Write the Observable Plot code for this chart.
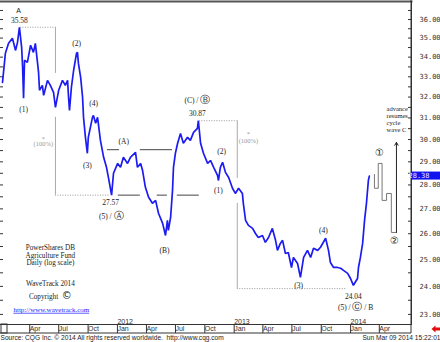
<!DOCTYPE html>
<html><head><meta charset="utf-8">
<script src="https://cdn.jsdelivr.net/npm/d3@7"></script>
<script src="https://cdn.jsdelivr.net/npm/@observablehq/plot@0.6"></script>
<style>body{margin:0;background:#fff}svg{display:block}</style>
</head><body><div id="chart"></div>
<script>
// ---- data ----
const priceSeries = [
["2011-01-12",32.72],["2011-01-21",34.20],["2011-01-31",34.72],["2011-02-12",34.99],["2011-02-22",34.35],
["2011-02-28",34.77],["2011-03-06",35.58],["2011-03-13",34.51],["2011-03-16",33.48],["2011-03-19",31.94],
["2011-03-22",33.84],["2011-03-31",33.73],["2011-04-10",34.62],["2011-04-19",34.25],["2011-04-25",34.72],
["2011-05-02",33.68],["2011-05-05",33.22],["2011-05-08",32.33],["2011-05-17",32.57],["2011-05-21",32.08],
["2011-06-02",32.82],["2011-06-11",32.57],["2011-06-21",32.23],["2011-06-27",31.50],["2011-07-07",32.33],
["2011-07-19",32.82],["2011-07-28",32.57],["2011-08-04",32.82],["2011-08-07",31.99],["2011-08-10",31.36],
["2011-08-16",32.48],["2011-08-23",33.33],["2011-09-01",34.20],["2011-09-04",34.25],["2011-09-07",33.68],
["2011-09-14",32.97],["2011-09-20",31.99],["2011-09-23",31.03],["2011-09-29",30.10],["2011-10-05",29.38],
["2011-10-08",30.10],["2011-10-21",31.03],["2011-10-24",31.12],["2011-10-31",30.75],["2011-11-06",31.03],
["2011-11-15",29.96],["2011-11-25",29.20],["2011-12-04",28.76],["2011-12-10",28.32],["2011-12-20",27.57],
["2011-12-26",28.50],["2012-01-08",28.93],["2012-01-17",28.76],["2012-01-26",29.20],["2012-02-08",28.93],
["2012-02-17",29.20],["2012-03-04",29.42],["2012-03-10",28.76],["2012-03-20",28.93],["2012-03-26",28.63],
["2012-04-04",27.90],["2012-04-14",27.48],["2012-04-26",27.23],["2012-05-06",27.35],["2012-05-15",26.82],
["2012-05-28",26.41],["2012-06-06",25.93],["2012-06-12",26.53],["2012-06-15",26.13],["2012-06-22",26.65],
["2012-06-28",27.77],["2012-07-01",28.76],["2012-07-07",29.38],["2012-07-14",29.83],["2012-07-23",30.28],
["2012-08-01",29.83],["2012-08-14",30.10],["2012-08-23",29.96],["2012-09-02",30.33],["2012-09-14",30.51],
["2012-09-17",30.87],["2012-09-24",29.83],["2012-10-03",29.38],["2012-10-16",28.93],["2012-10-25",29.06],
["2012-11-04",28.76],["2012-11-16",28.41],["2012-11-19",28.19],["2012-11-25",28.76],["2012-12-02",28.98],
["2012-12-11",28.54],["2012-12-21",28.32],["2013-01-02",27.86],["2013-01-11",27.64],["2013-01-21",27.86],
["2013-02-02",27.64],["2013-02-05",27.23],["2013-02-12",26.53],["2013-02-21",26.33],["2013-03-06",26.21],
["2013-03-15",26.01],["2013-03-24",25.85],["2013-04-06",25.93],["2013-04-15",25.66],["2013-04-25",25.85],
["2013-05-07",26.21],["2013-05-17",25.74],["2013-05-23",25.35],["2013-06-01",25.62],["2013-06-08",25.74],
["2013-06-17",25.23],["2013-06-26",25.27],["2013-07-06",24.70],["2013-07-12",25.08],["2013-07-25",24.85],
["2013-08-03",24.33],["2013-08-13",25.08],["2013-08-25",25.35],["2013-09-04",25.08],["2013-09-13",25.43],
["2013-09-26",25.35],["2013-10-05",25.47],["2013-10-21",25.82],["2013-10-30",25.35],["2013-11-05",24.89],
["2013-11-15",24.70],["2013-11-27",24.70],["2013-12-07",24.67],["2013-12-16",24.59],["2013-12-29",24.48],
["2014-01-07",24.29],["2014-01-16",24.04],["2014-01-29",24.29],["2014-02-01",24.70],["2014-02-07",25.08],
["2014-02-14",25.62],["2014-02-20",26.53],["2014-02-26",27.23],["2014-03-04",28.19],["2014-03-07",28.38]
];
const lastPrice = 28.38;
const yTicks = [23,24,25,26,27,28,29,30,31,32,33,34,35,36];
const yMinorTicks = d3.range(23, 37.01, 0.5);
const quarterTicks = ["2011-04-01","2011-07-01","2011-10-01","2012-01-01","2012-04-01","2012-07-01","2012-10-01",
  "2013-01-01","2013-04-01","2013-07-01","2013-10-01","2014-01-01","2014-04-01"];
const monthNames = ["Jan","Feb","Mar","Apr","May","Jun","Jul","Aug","Sep","Oct","Nov","Dec"];
const yearTicks = ["2012-01-01","2013-01-01","2014-01-01"];

const waveLabels = [
  {date:"2011-03-19", price:31.41, text:"(1)"},
  {date:"2011-09-01", price:34.72, text:"(2)"},
  {date:"2011-10-05", price:28.84, text:"(3)"},
  {date:"2011-10-25", price:31.69, text:"(4)"},
  {date:"2012-01-27", price:29.92, text:"(A)"},
  {date:"2011-12-19", price:26.69, text:"(5) / Ⓐ"},
  {date:"2012-06-03", price:25.35, text:"(B)"},
  {date:"2012-09-14", price:31.84, text:"(C) / Ⓑ"},
  {date:"2012-11-19", price:27.77, text:"(1)"},
  {date:"2012-11-29", price:29.47, text:"(2)"},
  {date:"2013-07-28", price:24.04, text:"(3)"},
  {date:"2013-10-14", price:26.13, text:"(4)"},
  {date:"2014-01-23", price:23.25, text:"(5) / Ⓒ / B"},
  {date:"2014-04-08", price:29.38, text:"①"},
  {date:"2014-05-25", price:25.70, text:"②"}
];
const priceLabels = [
  {date:"2011-03-06", price:35.96, text:"35.58"},
  {date:"2011-12-17", price:27.27, text:"27.57"},
  {date:"2012-09-14", price:31.22, text:"30.87"},
  {date:"2014-01-16", price:23.64, text:"24.04"}
];
const pctLabels = [
  {date:"2011-05-20", price:30.05, text:"*"},
  {date:"2011-05-20", price:29.78, text:"(100%)"},
  {date:"2013-02-21", price:30.24, text:"*"},
  {date:"2013-02-21", price:29.92, text:"(100%)"}
];
const levelSolid = [
  {price:29.54, from:"2011-12-07", to:"2012-01-14"},
  {price:29.54, from:"2012-03-19", to:"2012-06-28"},
  {price:27.57, from:"2012-01-10", to:"2012-03-19"},
  {price:27.57, from:"2012-05-11", to:"2012-06-12"},
  {price:27.57, from:"2012-07-13", to:"2012-09-20"}
];
const levelDotted = [
  {price:35.58, from:"2011-03-09", to:"2011-06-27"},
  {price:27.57, from:"2011-06-27", to:"2011-12-16"},
  {price:30.87, from:"2012-09-20", to:"2013-01-17"},
  {price:23.92, from:"2013-01-17", to:"2013-12-24"}
];
const brackets = [
  {date:"2011-06-27", top:35.58, bottom:33.17},
  {date:"2011-06-27", top:31.03, bottom:27.57},
  {date:"2013-01-17", top:30.87, bottom:28.28},
  {date:"2013-01-17", top:27.23, bottom:23.92}
];
const projection = [
  ["2014-03-23",28.45],["2014-03-23",27.86],["2014-04-04",27.86],["2014-04-04",28.93],["2014-04-16",28.93],
  ["2014-04-16",27.35],["2014-04-30",27.35],["2014-04-30",27.64],["2014-05-15",27.64],["2014-05-15",26.05],
  ["2014-05-31",26.05]
];
const projArrow = [{date:"2014-05-31", from:26.05, to:29.87}];
const projNote = [{date:"2014-04-30", price:31.55, text:"advance\nresumes\ncycle\nwave C"}];
const infoBlock = [
  {date:"2011-06-11", price:25.16, text:"PowerShares DB\nAgriculture Fund\nDaily (log scale)"},
  {date:"2011-06-11", price:24.11, text:"WaveTrack 2014"},
  {date:"2011-06-11", price:23.64, text:"Copyright  ©"}
];
const linkText = [{date:"2011-06-14", price:23.17, text:"http://www.wavetrack.com"}];
const cornerLabel = [{date:"2011-03-03", price:36.51, text:"A"}];
const sourceText = "Source: CQG Inc. © 2014 All rights reserved worldwide.  http://www.cqg.com";
const stampText = "Sun Mar 09 2014 15:22:01";

// ---- chart ----
const D = s => new Date(s + "T00:00:00Z");
const serif = "Liberation Serif";
const blue = "#1c1cf2";

const chart = Plot.plot({
  width: 440, height: 342,
  marginLeft: 0, marginRight: 29, marginTop: 1, marginBottom: 18,
  style: {background: "white", fontFamily: "Liberation Sans", fontSize: "7px", overflow: "visible"},
  x: {type: "utc", domain: [new Date(Date.UTC(2011,0,5,17)), new Date(Date.UTC(2014,6,17,5))], axis: null},
  y: {type: "log", domain: [22.65, 37.0], axis: null},
  marks: [
    Plot.tickY(yMinorTicks, {y: d => d, insetLeft: 408, stroke: "#333"}),
    Plot.tickY(yMinorTicks, {y: d => d, insetRight: 408, stroke: "#333"}),
    Plot.axisY(yTicks, {anchor: "right", tickSize: 0, tickPadding: 8, label: null,
      tickFormat: d => d.toFixed(2), fontFamily: "DejaVu Sans Mono", fontSize: 7, fill: "#333"}),
    Plot.axisX(quarterTicks.map(D), {anchor: "bottom", tickSize: 9, tickPadding: -4.5, lineAnchor: "middle",
      label: null, textAnchor: "start", dx: 2, stroke: "#333", fill: "#333", fontSize: 7,
      tickFormat: d => monthNames[d.getUTCMonth()]}),
    Plot.text(yearTicks.map(D), {x: d => d, text: d => String(d.getUTCFullYear()), frameAnchor: "bottom",
      lineAnchor: "bottom", dy: -1, dx: 2, textAnchor: "start", fontSize: 7, fill: "#333"}),
    Plot.ruleY(levelSolid, {y: "price", x1: d => D(d.from), x2: d => D(d.to), stroke: "#444"}),
    Plot.ruleY(levelDotted, {y: "price", x1: d => D(d.from), x2: d => D(d.to), stroke: "#999", strokeDasharray: "1,1.5"}),
    Plot.ruleX(brackets, {x: d => D(d.date), y1: "top", y2: "bottom", stroke: "#aaa"}),
    Plot.line(priceSeries, {x: d => D(d[0]), y: d => d[1], stroke: blue, strokeWidth: 1.7, strokeLinejoin: "miter"}),
    Plot.line(projection, {x: d => D(d[0]), y: d => d[1], stroke: "#777", strokeWidth: 1}),
    Plot.arrow(projArrow, {x1: d => D(d.date), x2: d => D(d.date), y1: "from", y2: "to",
      stroke: "#222", strokeWidth: 1, headLength: 5}),
    Plot.text(waveLabels, {x: d => D(d.date), y: "price", text: "text", fontFamily: serif, fontSize: 7.5, fill: "#222"}),
    Plot.text(priceLabels, {x: d => D(d.date), y: "price", text: "text", fontFamily: serif, fontSize: 7.5, fill: "#222"}),
    Plot.text(pctLabels, {x: d => D(d.date), y: "price", text: "text", fontFamily: serif, fontSize: 6.5, fill: "#999"}),
    Plot.text(projNote, {x: d => D(d.date), y: "price", text: "text", fontFamily: serif, fontSize: 6.5,
      lineHeight: 1.08, lineAnchor: "top", textAnchor: "start", fill: "#222"}),
    Plot.text(infoBlock, {x: d => D(d.date), y: "price", text: "text", fontFamily: serif, fontSize: 7.2,
      lineHeight: 1.05, lineAnchor: "middle", fill: "#222"}),
    Plot.text(linkText, {x: d => D(d.date), y: "price", text: "text", fontFamily: serif, fontSize: 7,
      fill: "#1a1aff", className: "wtlink"}),
    Plot.text(cornerLabel, {x: d => D(d.date), y: "price", text: "text", fontSize: 7, fill: "#222"}),
    Plot.text([sourceText], {text: d => d, frameAnchor: "bottom-left", dy: 15, textAnchor: "start",
      fontSize: 6.6, fill: "#222"}),
    Plot.text([stampText], {text: d => d, frameAnchor: "bottom-right", dx: 29, dy: 15, textAnchor: "end",
      fontSize: 6.6, fill: "#222"}),
    Plot.frame({anchor: "top", stroke: "#555", strokeWidth: 2}),
    Plot.frame({anchor: "right", stroke: "#333"}),
    Plot.frame({anchor: "bottom", stroke: "#333"})
  ]
});

document.getElementById("chart").appendChild(chart);

const svg = d3.select(chart);
const ys = chart.scale("y");
const yLast = ys.apply(lastPrice);
svg.selectAll(".wtlink text").attr("text-decoration", "underline");

// enlarge circled glyphs (styling only)
const circ = /([\u2460-\u24FF\u00A9])/;
svg.selectAll("text").each(function () {
  if (this.querySelector("tspan")) return;
  const t = this.textContent;
  if (!circ.test(t) || t.startsWith("Source")) return;
  const el = d3.select(this);
  el.text(null);
  for (const part of t.split(circ)) {
    if (!part) continue;
    const sp = el.append("tspan").text(part);
    if (circ.test(part)) sp.attr("font-size", 10).attr("font-family", "DejaVu Sans");
  }
});

const deco = svg.append("g");
deco.append("line").attr("x1", 0).attr("x2", 411).attr("y1", 333).attr("y2", 333).attr("stroke", "#333");
deco.append("line").attr("x1", 411).attr("x2", 411).attr("y1", 0).attr("y2", 333).attr("stroke", "#333");
deco.append("rect").attr("x", 1).attr("y", 324).attr("width", 6).attr("height", 9).attr("fill", "none").attr("stroke", "#333");
deco.append("rect").attr("x", 411).attr("y", yLast - 4).attr("width", 29).attr("height", 8).attr("fill", "#1212ee");
deco.append("text").attr("x", 419).attr("y", yLast).attr("dy", "0.32em").attr("fill", "#e8e8ff")
  .attr("font-family", "DejaVu Sans Mono").attr("font-size", 7).text(lastPrice.toFixed(2));
deco.append("path").attr("d", "M431.5,329 L435.5,325.5 L435.5,327.5 L440,327.5 L440,330.5 L435.5,330.5 L435.5,332.5 Z")
  .attr("fill", "#e01010");
</script>
</body></html>
